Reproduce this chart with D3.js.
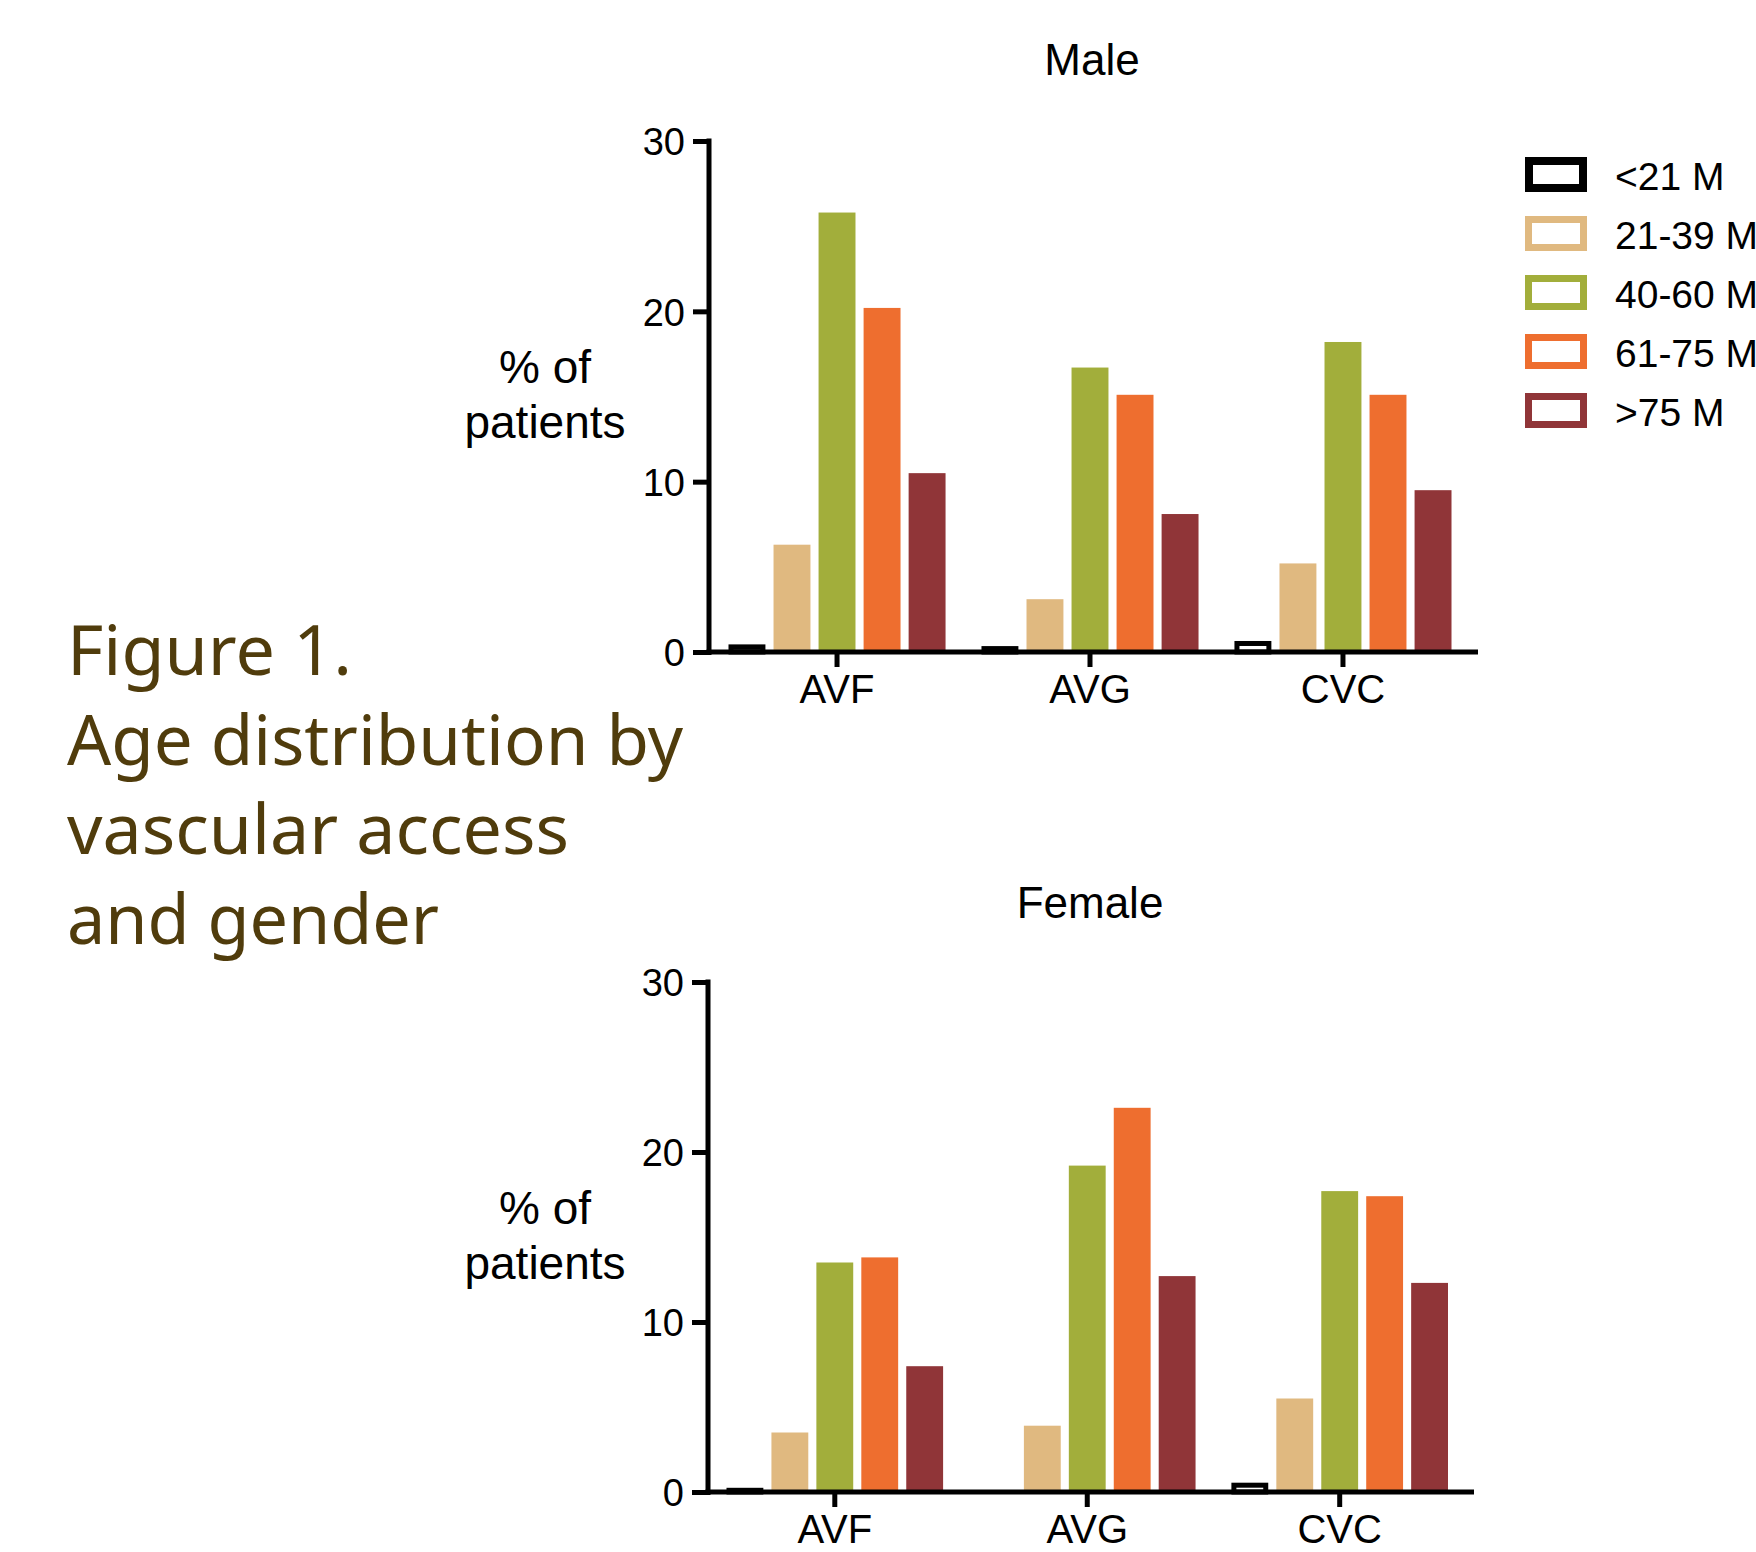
<!DOCTYPE html>
<html>
<head>
<meta charset="utf-8">
<script src="https://cdn.jsdelivr.net/npm/d3@7"></script>
<style>
  body { margin: 0; background: #fff; }
  svg text { font-family: "Liberation Sans", Arial, sans-serif; fill: #000; }
</style>
</head>
<body>
<div id="chart"></div>
<script>
// data
const categories = ["AVF", "AVG", "CVC"];
const ageGroups = ["<21 M", "21-39 M", "40-60 M", "61-75 M", ">75 M"];
const groupColors = ["#000000", "#e0b980", "#a2ae3b", "#ee6e2f", "#903538"];
const maleValues = [
  [0.3, 6.3, 25.8, 20.2, 10.5],
  [0.2, 3.1, 16.7, 15.1, 8.1],
  [0.5, 5.2, 18.2, 15.1, 9.5]
];
const femaleValues = [
  [0.1, 3.5, 13.5, 13.8, 7.4],
  [0, 3.9, 19.2, 22.6, 12.7],
  [0.4, 5.5, 17.7, 17.4, 12.3]
];
const yTicks = [0, 10, 20, 30];
const captionLines = ["Figure 1.", "Age distribution by", "vascular access", "and gender"];
const captionWidths = [285, 616, 502, 372];

const svgWidth = 1756;
const svgHeight = 1552;

const svg = d3.select("#chart").append("svg")
  .attr("width", svgWidth)
  .attr("height", svgHeight);

// one panel (male or female)
function drawPanel(p) {
  const g = svg.append("g");

  const yScale = d3.scaleLinear()
    .domain([0, 30])
    .range([p.bottom, p.top]);

  const x0 = d3.scaleBand()
    .domain(categories)
    .range(p.groupRange)
    .paddingInner(0.142)
    .paddingOuter(0);

  const x1 = d3.scaleBand()
    .domain(ageGroups)
    .range([0, x0.bandwidth()])
    .paddingInner(0.18)
    .paddingOuter(0);

  // bars
  const groups = g.selectAll(".grp")
    .data(p.values.map((vals, i) => ({ cat: categories[i], vals: vals })))
    .enter()
    .append("g")
    .attr("transform", d => `translate(${x0(d.cat)},0)`);

  groups.selectAll("rect")
    .data(d => d.vals.map((v, j) => ({ key: ageGroups[j], v: v, j: j })))
    .enter()
    .append("rect")
    .attr("x", d => x1(d.key) + (d.j === 0 ? 2.5 : 0))
    .attr("width", d => x1.bandwidth() - (d.j === 0 ? 5 : 0))
    .attr("y", d => yScale(d.v))
    .attr("height", d => yScale(0) - yScale(d.v))
    .attr("fill", d => d.j === 0 ? "#fff" : groupColors[d.j])
    .attr("stroke", d => d.j === 0 ? "#000" : "none")
    .attr("stroke-width", 5);

  // y axis
  const yAxis = d3.axisLeft(yScale)
    .tickValues(yTicks)
    .tickSize(16)
    .tickPadding(8)
    .tickSizeOuter(0);

  const yG = g.append("g")
    .attr("transform", `translate(${p.left},0)`)
    .call(yAxis);
  yG.select(".domain").remove();
  yG.selectAll(".tick line").attr("stroke", "#000").attr("stroke-width", 5);
  yG.selectAll(".tick text")
    .style("font-size", "38px")
    .attr("dy", "0.36em");

  g.append("line")
    .attr("x1", p.left).attr("x2", p.left)
    .attr("y1", p.top - 2.5).attr("y2", p.bottom + 3)
    .attr("stroke", "#000").attr("stroke-width", 5);

  // x axis
  const xAxis = d3.axisBottom(x0)
    .tickSize(15)
    .tickPadding(10)
    .tickSizeOuter(0);

  const xG = g.append("g")
    .attr("transform", `translate(0,${p.bottom})`)
    .call(xAxis);
  xG.select(".domain").remove();
  xG.selectAll(".tick line").attr("stroke", "#000").attr("stroke-width", 5);
  xG.selectAll(".tick text")
    .style("font-size", "40px")
    .attr("dy", null)
    .attr("y", 51);

  g.append("line")
    .attr("x1", p.left - 2.5).attr("x2", p.right)
    .attr("y1", p.bottom).attr("y2", p.bottom)
    .attr("stroke", "#000").attr("stroke-width", 5);

  // title
  g.append("text")
    .attr("x", p.titleX)
    .attr("y", p.titleY)
    .attr("text-anchor", "middle")
    .style("font-size", "44px")
    .text(p.title);

  // y label, two lines
  g.append("text")
    .attr("x", 545)
    .attr("y", p.top + 242)
    .attr("text-anchor", "middle")
    .style("font-size", "46px")
    .text("% of");
  g.append("text")
    .attr("x", 545)
    .attr("y", p.top + 297)
    .attr("text-anchor", "middle")
    .style("font-size", "46px")
    .text("patients");
}

drawPanel({
  title: "Male", values: maleValues,
  top: 141, bottom: 652, left: 709, right: 1478,
  groupRange: [728.5, 1451.5], titleX: 1092, titleY: 75
});

drawPanel({
  title: "Female", values: femaleValues,
  top: 982, bottom: 1492, left: 708, right: 1474,
  groupRange: [726.5, 1448], titleX: 1090, titleY: 918
});

// legend
const legend = svg.append("g")
  .attr("transform", "translate(1525,157)");

const legendRows = legend.selectAll("g")
  .data(ageGroups)
  .enter()
  .append("g")
  .attr("transform", (d, i) => `translate(0,${i * 59})`);

legendRows.append("rect")
  .attr("x", (d, i) => i === 0 ? 4 : 3.5)
  .attr("y", (d, i) => i === 0 ? 4 : 3.5)
  .attr("width", (d, i) => i === 0 ? 54 : 55)
  .attr("height", (d, i) => i === 0 ? 27 : 28)
  .attr("fill", "none")
  .attr("stroke", (d, i) => groupColors[i])
  .attr("stroke-width", (d, i) => i === 0 ? 8 : 7);

legendRows.append("text")
  .attr("x", 90)
  .attr("y", 33)
  .style("font-size", "39px")
  .text(d => d);

// caption on the left
const caption = svg.append("g");
caption.selectAll("text")
  .data(captionLines)
  .enter()
  .append("text")
  .attr("x", 67)
  .attr("y", (d, i) => 675 + i * 89.7)
  .attr("textLength", (d, i) => captionWidths[i])
  .attr("lengthAdjust", "spacingAndGlyphs")
  .style("font-family", "'Noto Sans', sans-serif")
  .style("font-size", "70px")
  .style("fill", "#503c0c")
  .text(d => d);
</script>
</body>
</html>
